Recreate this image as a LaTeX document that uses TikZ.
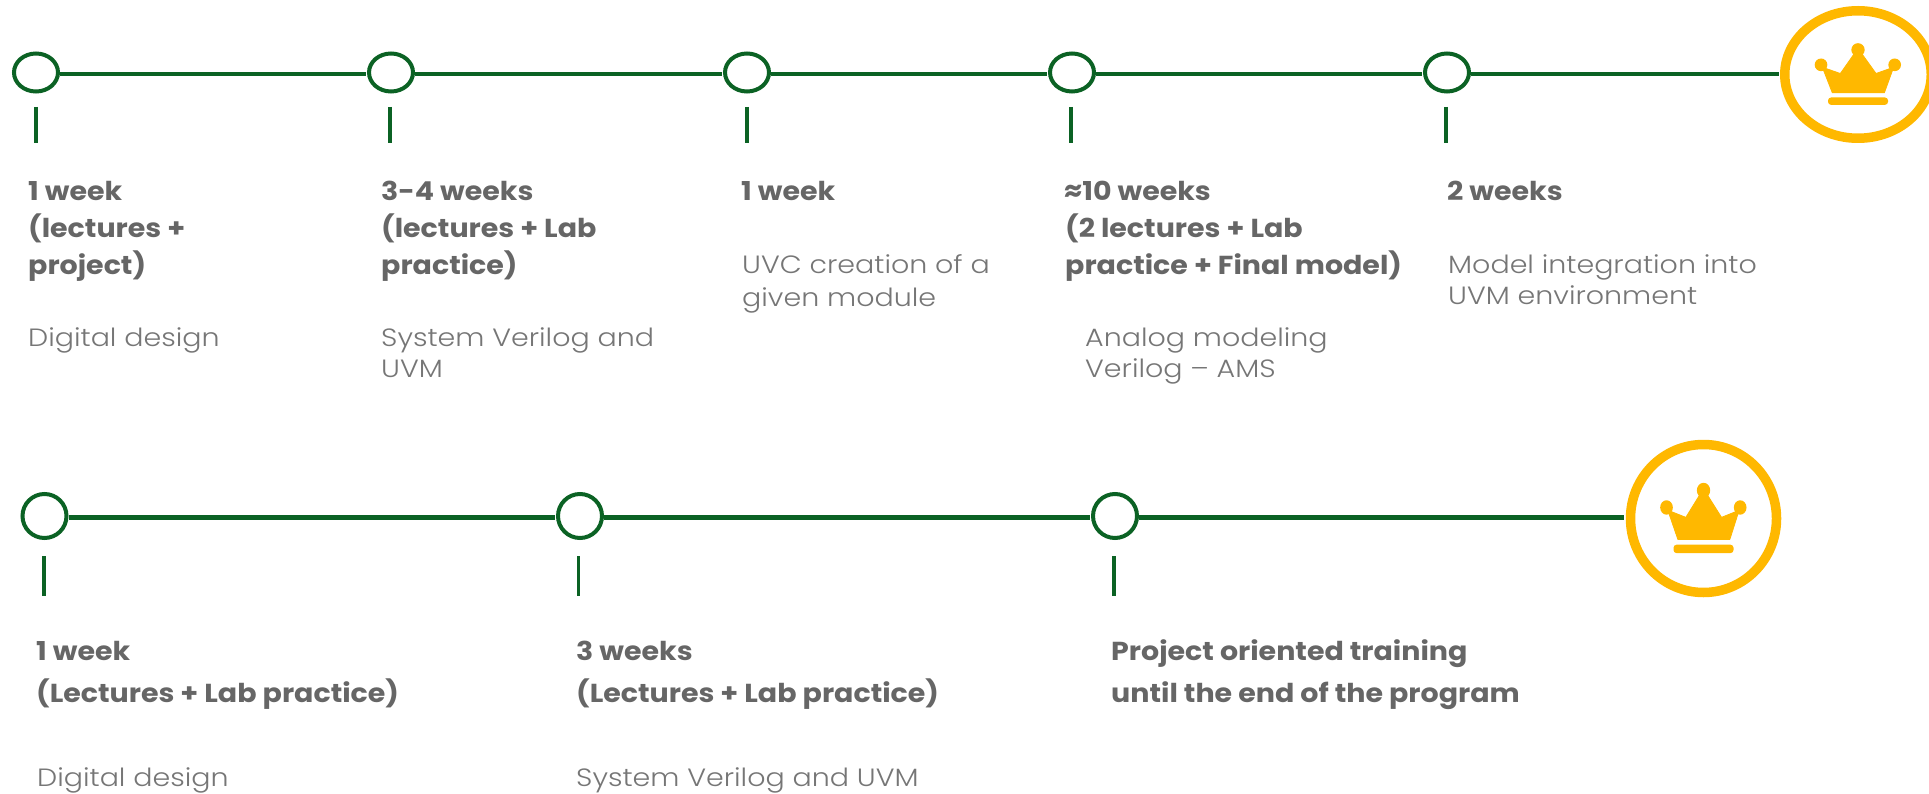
\documentclass[tikz,border=0pt]{standalone}
\usepackage{fontspec}
\newfontfamily\headfont[FakeStretch=1.095]{Poppins}
\newfontfamily\bodyfont[FakeStretch=1.14]{Poppins Light}
\usetikzlibrary{shapes.geometric}
\definecolor{tlgreen}{RGB}{11,98,36}
\definecolor{tlgold}{RGB}{255,184,0}
\definecolor{headgrey}{RGB}{102,102,102}
\definecolor{bodygrey}{RGB}{118,118,118}
\tikzset{
  milestone/.style={draw=tlgreen,line width=4pt,ellipse,inner sep=0pt,minimum width=44pt,minimum height=#1,fill=white},
  goal/.style={draw=tlgold,line width=9.5pt,ellipse,inner sep=0pt,fill=white},
  rail/.style={draw=tlgreen,line width=4.8pt,shorten >=1.5pt},
  tickmark/.style={draw=tlgreen,line width=3.2pt},
  head/.style={anchor=base west,inner sep=0pt,text=headgrey,font=\headfont\fontsize{26}{26}\selectfont\bfseries},
  body/.style={anchor=base west,inner sep=0pt,text=bodygrey,font=\bodyfont\fontsize{25}{25}\selectfont},
  crown/.pic={
    \fill[tlgold,draw=tlgold,line width=0.8pt,line join=round] (-77,55) -- (-104,-14) -- (-102,-20) -- (-53,-3) -- (-6,-70) -- (6,-70) -- (54,-3) -- (102,-20) -- (104,-14) -- (79,55) -- cycle;
    \fill[tlgold] (0,-74) circle[radius=20] (-111,-29) circle[radius=19] (110,-29) circle[radius=19];
    \fill[tlgold,rounded corners=3pt] (-90,69) rectangle (90,91);
  }
}
\begin{document}
\begin{tikzpicture}[x=1pt,y=-1pt]
\useasboundingbox (0,0) rectangle (1929,794);
\clip (0,0) rectangle (1929,794);
\fill[white] (0,0) rectangle (1929,794);
\coordinate (railA) at (0,74);
\coordinate (railC) at (0,517.5);
% row 1
\node[milestone=38pt] (a1) at (36,72.5) {};
\node[milestone=38pt] (a2) at (391,72.5) {};
\node[milestone=38pt] (a3) at (747,72.5) {};
\node[milestone=38pt] (a4) at (1072,72.5) {};
\node[milestone=38pt] (a5) at (1447,72.5) {};
\node[goal,minimum width=146.5pt,minimum height=127.5pt] (g1) at (1858,74.5) {};
\foreach \s/\t in {a1/a2,a2/a3,a3/a4,a4/a5,a5/g1}
  \draw[rail] (\s.east |- railA) -- (\t.west |- railA);
\pic[xscale=1/3,yscale=1/3] at (1858,74.5) {crown};
\foreach \n/\x in {1/36,2/390,3/747,4/1071,5/1446}{
  \coordinate (ta\n) at (\x,107);
  \coordinate (tb\n) at (\x,143);
  \draw[tickmark] (ta\n) -- (tb\n);
}
\node[head] (h11) at (28,201) {1 week};
\node[head] (h12) at (28,238) {(lectures +};
\node[head] (h13) at (28,274) {project)};
\node[body] (b11) at (28,346) {Digital design};
\node[head] (h21) at (381,201) {3-4 weeks};
\node[head] (h22) at (381,238) {(lectures + Lab};
\node[head] (h23) at (381,274) {practice)};
\node[body] (b21) at (381,346) {System Verilog and};
\node[body] (b22) at (381,377) {UVM};
\node[head] (h31) at (741,201) {1 week};
\node[body] (b31) at (742,273) {UVC creation of a};
\node[body] (b32) at (742,306) {given module};
\node[head] (h41) at (1064,201) {≈10 weeks};
\node[head] (h42) at (1065,238) {(2 lectures + Lab};
\node[head] (h43) at (1065,274) {practice + Final model)};
\node[body] (b41) at (1085,346) {Analog modeling};
\node[body] (b42) at (1085,377) {Verilog – AMS};
\node[head] (h51) at (1447,201) {2 weeks};
\node[body] (b51) at (1448,273) {Model integration into};
\node[body] (b52) at (1448,305) {UVM environment};
% row 2
\node[milestone=44pt] (c1) at (44.5,516) {};
\node[milestone=44pt] (c2) at (580,516) {};
\node[milestone=44pt] (c3) at (1115,516) {};
\node[goal,minimum width=146pt,minimum height=148pt] (g2) at (1703.5,518.5) {};
\foreach \s/\t in {c1/c2,c2/c3,c3/g2}
  \draw[rail] (\s.east |- railC) -- (\t.west |- railC);
\pic[xscale=1/3,yscale=1.14/3] at (1703.5,518.5) {crown};
\foreach \n/\x in {1/44,2/578.5,3/1114}{
  \coordinate (tc\n) at (\x,556);
  \coordinate (td\n) at (\x,596);
  \draw[tickmark] (tc\n) -- (td\n);
}
\node[head] (k11) at (36,660.5) {1 week};
\node[head] (k12) at (36,702) {(Lectures + Lab practice)};
\node[body] (m11) at (37,786) {Digital design};
\node[head] (k21) at (576,660.5) {3 weeks};
\node[head] (k22) at (576,702) {(Lectures + Lab practice)};
\node[body] (m21) at (576,786) {System Verilog and UVM};
\node[head] (k31) at (1111,660.5) {Project oriented training};
\node[head] (k32) at (1111,702) {until the end of the program};
\end{tikzpicture}
\end{document}
